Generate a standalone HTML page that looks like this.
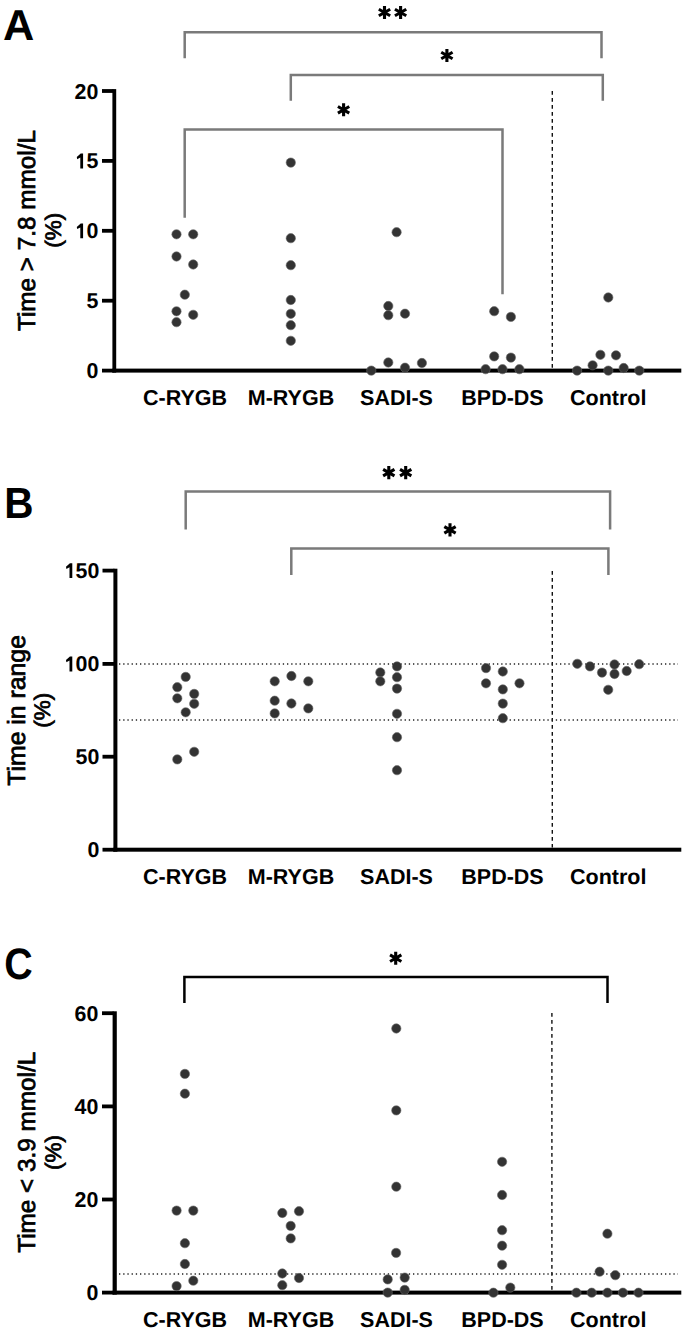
<!DOCTYPE html>
<html><head><meta charset="utf-8"><title>Figure</title>
<style>html,body{margin:0;padding:0;background:#fff;}svg{display:block;}text{text-rendering:geometricPrecision;}</style></head>
<body><svg width="685" height="1333" viewBox="0 0 685 1333">
<rect width="685" height="1333" fill="#fff"/>
<text transform="translate(3.0,40)" font-family="Liberation Sans, sans-serif" font-weight="bold" font-size="43.3">A</text>
<path d="M184.7 58.2V32.3H601.5V58.2" stroke="#7a7a7a" stroke-width="2.5" fill="none" stroke-linejoin="miter"/>
<path d="M290.8 100.7V75H602.8V100.7" stroke="#7a7a7a" stroke-width="2.5" fill="none" stroke-linejoin="miter"/>
<path d="M184.7 217.7V129.4H502.5V294.2" stroke="#7a7a7a" stroke-width="2.5" fill="none" stroke-linejoin="miter"/>
<path d="M384.50 19.05L384.50 5.95M378.83 15.77L390.17 9.23M378.83 9.23L390.17 15.77" stroke="#000" stroke-width="3.1" fill="none"/>
<path d="M400.60 19.05L400.60 5.95M394.93 15.77L406.27 9.23M394.93 9.23L406.27 15.77" stroke="#000" stroke-width="3.1" fill="none"/>
<path d="M446.90 62.05L446.90 48.95M441.23 58.77L452.57 52.23M441.23 52.23L452.57 58.77" stroke="#000" stroke-width="3.1" fill="none"/>
<path d="M343.60 116.35L343.60 103.25M337.93 113.08L349.27 106.52M337.93 106.52L349.27 113.08" stroke="#000" stroke-width="3.1" fill="none"/>
<line x1="552.3" y1="91" x2="552.3" y2="368.5" stroke="#111" stroke-width="1.4" stroke-dasharray="3.8 3.2"/>
<rect x="112.4" y="89.10" width="3.8" height="283.50" fill="#000"/>
<rect x="112.4" y="368.60" width="568.90" height="4" fill="#000"/>
<rect x="102" y="368.70" width="11.40" height="3.8" fill="#000"/>
<text x="86.40" y="378.10" font-family="Liberation Sans, sans-serif" font-weight="bold" font-size="21.4">0</text>
<rect x="102" y="298.80" width="11.40" height="3.8" fill="#000"/>
<text x="86.40" y="308.20" font-family="Liberation Sans, sans-serif" font-weight="bold" font-size="21.4">5</text>
<rect x="102" y="228.90" width="11.40" height="3.8" fill="#000"/>
<polygon points="83.08,223.41 83.08,238.30 80.30,238.30 80.30,227.49 77.20,229.10 76.79,226.89 80.71,223.41" fill="#000"/>
<text x="86.40" y="238.30" font-family="Liberation Sans, sans-serif" font-weight="bold" font-size="21.4">0</text>
<rect x="102" y="159.00" width="11.40" height="3.8" fill="#000"/>
<polygon points="83.08,153.51 83.08,168.40 80.30,168.40 80.30,157.59 77.20,159.20 76.79,156.99 80.71,153.51" fill="#000"/>
<text x="86.40" y="168.40" font-family="Liberation Sans, sans-serif" font-weight="bold" font-size="21.4">5</text>
<rect x="102" y="89.10" width="11.40" height="3.8" fill="#000"/>
<text x="74.50" y="98.50" font-family="Liberation Sans, sans-serif" font-weight="bold" font-size="21.4">2</text>
<text x="86.40" y="98.50" font-family="Liberation Sans, sans-serif" font-weight="bold" font-size="21.4">0</text>
<text transform="translate(35.1,230.5) rotate(-90)" font-family="Liberation Sans, sans-serif" font-size="24.3" stroke="#000" stroke-width="0.75" text-anchor="middle">Time &gt; 7.8 mmol/L</text>
<text transform="translate(61.4,230.2) rotate(-90)" font-family="Liberation Sans, sans-serif" font-size="22.5" stroke="#000" stroke-width="0.75" text-anchor="middle">(%)</text>
<g fill="#333333" stroke="#666" stroke-width="0.6">
<circle cx="176.5" cy="234.3" r="4.65"/>
<circle cx="193.2" cy="234.3" r="4.65"/>
<circle cx="176.5" cy="256.5" r="4.65"/>
<circle cx="193.2" cy="264.5" r="4.65"/>
<circle cx="184.8" cy="294.7" r="4.65"/>
<circle cx="176.5" cy="311.3" r="4.65"/>
<circle cx="193.2" cy="314.8" r="4.65"/>
<circle cx="176.5" cy="322.2" r="4.65"/>
<circle cx="290.8" cy="162.6" r="4.65"/>
<circle cx="290.8" cy="238.2" r="4.65"/>
<circle cx="290.8" cy="265.2" r="4.65"/>
<circle cx="290.8" cy="300" r="4.65"/>
<circle cx="290.8" cy="313.8" r="4.65"/>
<circle cx="290.8" cy="325.2" r="4.65"/>
<circle cx="290.8" cy="340.8" r="4.65"/>
<circle cx="396.6" cy="232.2" r="4.65"/>
<circle cx="388.3" cy="306" r="4.65"/>
<circle cx="388.3" cy="315.2" r="4.65"/>
<circle cx="405" cy="313.7" r="4.65"/>
<circle cx="388.3" cy="362.5" r="4.65"/>
<circle cx="371.3" cy="370.6" r="4.65"/>
<circle cx="405" cy="367.7" r="4.65"/>
<circle cx="421.9" cy="363" r="4.65"/>
<circle cx="494.2" cy="311.2" r="4.65"/>
<circle cx="510.9" cy="316.9" r="4.65"/>
<circle cx="494.2" cy="356.4" r="4.65"/>
<circle cx="510.9" cy="357.6" r="4.65"/>
<circle cx="485.6" cy="369.2" r="4.65"/>
<circle cx="502.5" cy="369.2" r="4.65"/>
<circle cx="519.4" cy="369.2" r="4.65"/>
<circle cx="608.3" cy="297.5" r="4.65"/>
<circle cx="600.4" cy="354.8" r="4.65"/>
<circle cx="616" cy="355.3" r="4.65"/>
<circle cx="592.6" cy="365.3" r="4.65"/>
<circle cx="577.1" cy="370.6" r="4.65"/>
<circle cx="608.3" cy="370.6" r="4.65"/>
<circle cx="623.7" cy="368" r="4.65"/>
<circle cx="639.3" cy="370.6" r="4.65"/>
</g>
<text x="185" y="404.8" font-family="Liberation Sans, sans-serif" font-weight="bold" font-size="21.5" text-anchor="middle">C-RYGB</text>
<text x="291" y="404.8" font-family="Liberation Sans, sans-serif" font-weight="bold" font-size="21.5" text-anchor="middle">M-RYGB</text>
<text x="396.5" y="404.8" font-family="Liberation Sans, sans-serif" font-weight="bold" font-size="21.5" text-anchor="middle">SADI-S</text>
<text x="502.5" y="404.8" font-family="Liberation Sans, sans-serif" font-weight="bold" font-size="21.5" text-anchor="middle">BPD-DS</text>
<text x="608.2" y="404.8" font-family="Liberation Sans, sans-serif" font-weight="bold" font-size="21.5" text-anchor="middle">Control</text>
<text transform="translate(4.3,517.8) scale(0.93,1)" font-family="Liberation Sans, sans-serif" font-weight="bold" font-size="43.6">B</text>
<path d="M185.7 529.4V491.6H610.1V529.4" stroke="#7a7a7a" stroke-width="2.5" fill="none" stroke-linejoin="miter"/>
<path d="M291.3 575V548.4H608.4V575" stroke="#7a7a7a" stroke-width="2.5" fill="none" stroke-linejoin="miter"/>
<path d="M388.80 479.15L388.80 466.05M383.13 475.88L394.47 469.33M383.13 469.33L394.47 475.88" stroke="#000" stroke-width="3.1" fill="none"/>
<path d="M405.70 479.15L405.70 466.05M400.03 475.88L411.37 469.33M400.03 469.33L411.37 475.88" stroke="#000" stroke-width="3.1" fill="none"/>
<path d="M450.00 536.45L450.00 523.35M444.33 533.17L455.67 526.62M444.33 526.62L455.67 533.17" stroke="#000" stroke-width="3.1" fill="none"/>
<line x1="552.3" y1="571" x2="552.3" y2="847.5" stroke="#111" stroke-width="1.4" stroke-dasharray="3.8 3.2"/>
<line x1="119" y1="664.0" x2="678" y2="664.0" stroke="#222" stroke-width="1.3" stroke-dasharray="1.3 2.9"/>
<line x1="119" y1="720.0" x2="678" y2="720.0" stroke="#222" stroke-width="1.3" stroke-dasharray="1.3 2.9"/>
<rect x="113.4" y="568.70" width="4.0" height="283.00" fill="#000"/>
<rect x="113.4" y="847.70" width="567.90" height="4" fill="#000"/>
<rect x="102.5" y="847.80" width="11.90" height="3.8" fill="#000"/>
<text x="87.50" y="857.20" font-family="Liberation Sans, sans-serif" font-weight="bold" font-size="21.4">0</text>
<rect x="102.5" y="754.80" width="11.90" height="3.8" fill="#000"/>
<text x="75.60" y="764.20" font-family="Liberation Sans, sans-serif" font-weight="bold" font-size="21.4">5</text>
<text x="87.50" y="764.20" font-family="Liberation Sans, sans-serif" font-weight="bold" font-size="21.4">0</text>
<rect x="102.5" y="662.00" width="11.90" height="3.8" fill="#000"/>
<polygon points="72.29,656.51 72.29,671.40 69.50,671.40 69.50,660.59 66.40,662.20 65.99,659.99 69.91,656.51" fill="#000"/>
<text x="75.60" y="671.40" font-family="Liberation Sans, sans-serif" font-weight="bold" font-size="21.4">0</text>
<text x="87.50" y="671.40" font-family="Liberation Sans, sans-serif" font-weight="bold" font-size="21.4">0</text>
<rect x="102.5" y="568.70" width="11.90" height="3.8" fill="#000"/>
<polygon points="72.29,563.21 72.29,578.10 69.50,578.10 69.50,567.29 66.40,568.90 65.99,566.69 69.91,563.21" fill="#000"/>
<text x="75.60" y="578.10" font-family="Liberation Sans, sans-serif" font-weight="bold" font-size="21.4">5</text>
<text x="87.50" y="578.10" font-family="Liberation Sans, sans-serif" font-weight="bold" font-size="21.4">0</text>
<text transform="translate(24.6,710.4) rotate(-90)" font-family="Liberation Sans, sans-serif" font-size="24.8" stroke="#000" stroke-width="0.75" text-anchor="middle">Time in range</text>
<text transform="translate(49.9,710.2) rotate(-90)" font-family="Liberation Sans, sans-serif" font-size="22.5" stroke="#000" stroke-width="0.75" text-anchor="middle">(%)</text>
<g fill="#333333" stroke="#666" stroke-width="0.6">
<circle cx="185.7" cy="676.9" r="4.65"/>
<circle cx="177.3" cy="687.2" r="4.65"/>
<circle cx="194.2" cy="693.9" r="4.65"/>
<circle cx="177.3" cy="698.3" r="4.65"/>
<circle cx="194.2" cy="703.8" r="4.65"/>
<circle cx="185.7" cy="712.3" r="4.65"/>
<circle cx="194.2" cy="751.8" r="4.65"/>
<circle cx="177.3" cy="759.4" r="4.65"/>
<circle cx="274.7" cy="681.3" r="4.65"/>
<circle cx="291.4" cy="676" r="4.65"/>
<circle cx="308.3" cy="681.3" r="4.65"/>
<circle cx="274.7" cy="700.7" r="4.65"/>
<circle cx="291.4" cy="703.5" r="4.65"/>
<circle cx="308.3" cy="708.4" r="4.65"/>
<circle cx="274.7" cy="713.4" r="4.65"/>
<circle cx="380.3" cy="672.5" r="4.65"/>
<circle cx="380.3" cy="681.3" r="4.65"/>
<circle cx="397" cy="666.4" r="4.65"/>
<circle cx="397" cy="677.2" r="4.65"/>
<circle cx="397" cy="688.6" r="4.65"/>
<circle cx="397" cy="713.8" r="4.65"/>
<circle cx="397" cy="737.2" r="4.65"/>
<circle cx="397" cy="770.2" r="4.65"/>
<circle cx="486" cy="668.1" r="4.65"/>
<circle cx="502.8" cy="671.5" r="4.65"/>
<circle cx="486" cy="683.3" r="4.65"/>
<circle cx="519.5" cy="683.3" r="4.65"/>
<circle cx="502.8" cy="689.4" r="4.65"/>
<circle cx="502.8" cy="703.6" r="4.65"/>
<circle cx="502.8" cy="718.2" r="4.65"/>
<circle cx="577.3" cy="663.8" r="4.65"/>
<circle cx="590" cy="666.4" r="4.65"/>
<circle cx="602" cy="672.6" r="4.65"/>
<circle cx="614.5" cy="664.5" r="4.65"/>
<circle cx="614.5" cy="674" r="4.65"/>
<circle cx="626.7" cy="671" r="4.65"/>
<circle cx="639.2" cy="664.2" r="4.65"/>
<circle cx="608.2" cy="689.8" r="4.65"/>
</g>
<text x="185" y="884.3" font-family="Liberation Sans, sans-serif" font-weight="bold" font-size="21.5" text-anchor="middle">C-RYGB</text>
<text x="291" y="884.3" font-family="Liberation Sans, sans-serif" font-weight="bold" font-size="21.5" text-anchor="middle">M-RYGB</text>
<text x="396.5" y="884.3" font-family="Liberation Sans, sans-serif" font-weight="bold" font-size="21.5" text-anchor="middle">SADI-S</text>
<text x="502.5" y="884.3" font-family="Liberation Sans, sans-serif" font-weight="bold" font-size="21.5" text-anchor="middle">BPD-DS</text>
<text x="608.2" y="884.3" font-family="Liberation Sans, sans-serif" font-weight="bold" font-size="21.5" text-anchor="middle">Control</text>
<text transform="translate(4.3,979) scale(0.895,1)" font-family="Liberation Sans, sans-serif" font-weight="bold" font-size="44">C</text>
<path d="M184.4 1003.1V977H607.5V1003.1" stroke="#000" stroke-width="2.5" fill="none" stroke-linejoin="miter"/>
<path d="M395.70 964.75L395.70 951.65M390.03 961.48L401.37 954.93M390.03 954.93L401.37 961.48" stroke="#000" stroke-width="3.1" fill="none"/>
<line x1="551.9" y1="1013" x2="551.9" y2="1290.5" stroke="#111" stroke-width="1.4" stroke-dasharray="3.8 3.2"/>
<line x1="119" y1="1274.0" x2="678" y2="1274.0" stroke="#222" stroke-width="1.3" stroke-dasharray="1.3 2.9"/>
<rect x="112.6" y="1011.30" width="4.2" height="283.30" fill="#000"/>
<rect x="112.6" y="1290.60" width="568.70" height="4" fill="#000"/>
<rect x="102" y="1290.70" width="11.60" height="3.8" fill="#000"/>
<text x="86.40" y="1300.10" font-family="Liberation Sans, sans-serif" font-weight="bold" font-size="21.4">0</text>
<rect x="102" y="1197.60" width="11.60" height="3.8" fill="#000"/>
<text x="74.50" y="1207.00" font-family="Liberation Sans, sans-serif" font-weight="bold" font-size="21.4">2</text>
<text x="86.40" y="1207.00" font-family="Liberation Sans, sans-serif" font-weight="bold" font-size="21.4">0</text>
<rect x="102" y="1104.50" width="11.60" height="3.8" fill="#000"/>
<text x="74.50" y="1113.90" font-family="Liberation Sans, sans-serif" font-weight="bold" font-size="21.4">4</text>
<text x="86.40" y="1113.90" font-family="Liberation Sans, sans-serif" font-weight="bold" font-size="21.4">0</text>
<rect x="102" y="1011.30" width="11.60" height="3.8" fill="#000"/>
<text x="74.50" y="1020.70" font-family="Liberation Sans, sans-serif" font-weight="bold" font-size="21.4">6</text>
<text x="86.40" y="1020.70" font-family="Liberation Sans, sans-serif" font-weight="bold" font-size="21.4">0</text>
<text transform="translate(35.1,1152.3) rotate(-90)" font-family="Liberation Sans, sans-serif" font-size="24.3" stroke="#000" stroke-width="0.75" text-anchor="middle">Time &lt; 3.9 mmol/L</text>
<text transform="translate(60.8,1152.5) rotate(-90)" font-family="Liberation Sans, sans-serif" font-size="22.5" stroke="#000" stroke-width="0.75" text-anchor="middle">(%)</text>
<g fill="#333333" stroke="#666" stroke-width="0.6">
<circle cx="184.9" cy="1073.9" r="4.65"/>
<circle cx="184.9" cy="1093.7" r="4.65"/>
<circle cx="176.6" cy="1210.6" r="4.65"/>
<circle cx="193.3" cy="1210.6" r="4.65"/>
<circle cx="184.9" cy="1243.2" r="4.65"/>
<circle cx="184.9" cy="1264" r="4.65"/>
<circle cx="193.3" cy="1280.7" r="4.65"/>
<circle cx="176.6" cy="1286.1" r="4.65"/>
<circle cx="282.3" cy="1213" r="4.65"/>
<circle cx="299" cy="1211.2" r="4.65"/>
<circle cx="290.7" cy="1225.9" r="4.65"/>
<circle cx="290.7" cy="1238.4" r="4.65"/>
<circle cx="282.3" cy="1273.5" r="4.65"/>
<circle cx="299" cy="1278" r="4.65"/>
<circle cx="282.3" cy="1285.2" r="4.65"/>
<circle cx="396.3" cy="1028.5" r="4.65"/>
<circle cx="396.3" cy="1110.4" r="4.65"/>
<circle cx="396.3" cy="1186.7" r="4.65"/>
<circle cx="396.1" cy="1252.9" r="4.65"/>
<circle cx="387.7" cy="1279.4" r="4.65"/>
<circle cx="404.7" cy="1277.6" r="4.65"/>
<circle cx="387.7" cy="1292.6" r="4.65"/>
<circle cx="404.7" cy="1289.9" r="4.65"/>
<circle cx="502.1" cy="1161.8" r="4.65"/>
<circle cx="502.1" cy="1195" r="4.65"/>
<circle cx="502.1" cy="1230.2" r="4.65"/>
<circle cx="502.1" cy="1245.7" r="4.65"/>
<circle cx="502.1" cy="1264.8" r="4.65"/>
<circle cx="510.3" cy="1287.6" r="4.65"/>
<circle cx="493.4" cy="1292.7" r="4.65"/>
<circle cx="607.4" cy="1233.7" r="4.65"/>
<circle cx="599.6" cy="1271.7" r="4.65"/>
<circle cx="615.3" cy="1275.2" r="4.65"/>
<circle cx="576.4" cy="1292.7" r="4.65"/>
<circle cx="591.7" cy="1292.7" r="4.65"/>
<circle cx="607.4" cy="1292.7" r="4.65"/>
<circle cx="622.9" cy="1292.7" r="4.65"/>
<circle cx="638.5" cy="1292.7" r="4.65"/>
</g>
<text x="185" y="1326.5" font-family="Liberation Sans, sans-serif" font-weight="bold" font-size="21.5" text-anchor="middle">C-RYGB</text>
<text x="291" y="1326.5" font-family="Liberation Sans, sans-serif" font-weight="bold" font-size="21.5" text-anchor="middle">M-RYGB</text>
<text x="396.5" y="1326.5" font-family="Liberation Sans, sans-serif" font-weight="bold" font-size="21.5" text-anchor="middle">SADI-S</text>
<text x="502.5" y="1326.5" font-family="Liberation Sans, sans-serif" font-weight="bold" font-size="21.5" text-anchor="middle">BPD-DS</text>
<text x="608.2" y="1326.5" font-family="Liberation Sans, sans-serif" font-weight="bold" font-size="21.5" text-anchor="middle">Control</text>
</svg></body></html>
